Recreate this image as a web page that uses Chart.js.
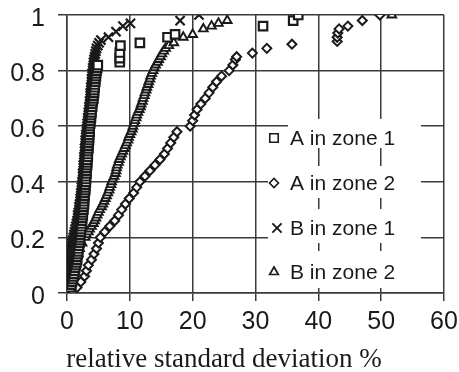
<!DOCTYPE html>
<html>
<head>
<meta charset="utf-8">
<script src="https://cdn.jsdelivr.net/npm/chart.js@4.4.1/dist/chart.umd.min.js"></script>
<style>
  html, body { margin: 0; padding: 0; background: #fff; }
  canvas { display: block; }
</style>
</head>
<body>
<canvas id="rsdChart" width="459" height="372"></canvas>
<script>
// cumulative fraction vs relative standard deviation (%)
const seriesLabels = ['A in zone 1', 'A in zone 2', 'B in zone 1', 'B in zone 2'];

// A in zone 1: right edge of the steep black band, then the loose squares on top
const aZone1X = [
  0.5,0.7,0.8,0.9,1.0,1.1,1.2,1.3,
  1.4,1.5,1.6,1.6,1.7,1.8,1.8,1.9,2.0,2.0,
  2.1,2.1,2.2,2.2,2.3,2.3,2.4,2.4,2.5,2.5,
  2.6,2.6,2.7,2.7,2.7,2.8,2.8,2.9,2.9,2.9,
  3.0,3.0,3.0,3.1,3.1,3.1,3.2,3.2,3.2,3.3,
  3.3,3.3,3.4,3.4,3.4,3.5,3.5,3.5,3.6,3.6,
  3.6,3.7,3.7,3.8,3.8,3.9,3.9,4.0,4.0,4.1,
  4.2,4.2,4.3,4.3,4.4,4.4,4.5,4.5,4.6,4.6,
  4.7,4.8,4.9,
  8.4,8.4,8.4,8.5,11.6,16.0,17.2,31.2,36.0,36.8];
const aZone1Y = [
  0.02,0.03,0.04,0.05,0.06,0.07,0.08,0.09,
  0.10,0.11,0.12,0.13,0.14,0.15,0.16,0.17,0.18,0.19,
  0.20,0.21,0.22,0.23,0.24,0.25,0.26,0.27,0.28,0.29,
  0.30,0.31,0.32,0.33,0.34,0.35,0.36,0.37,0.38,0.39,
  0.40,0.41,0.42,0.43,0.44,0.45,0.46,0.47,0.48,0.49,
  0.50,0.51,0.52,0.53,0.54,0.55,0.56,0.57,0.58,0.59,
  0.60,0.61,0.62,0.63,0.64,0.65,0.66,0.67,0.68,0.69,
  0.70,0.71,0.72,0.73,0.74,0.75,0.76,0.77,0.78,0.79,
  0.80,0.81,0.82,
  0.83,0.845,0.865,0.89,0.90,0.92,0.93,0.96,0.98,1.0];

// A in zone 2: the right-hand curve of diamonds
const aZone2X = [0.9,1.6,2.2,2.8,3.1,3.4,3.9,4.3,4.7,5.0,5.3,6.0,6.8,7.6,8.2,8.7,9.3,9.9,10.6,11.1,11.6,12.4,13.2,14.0,14.8,15.5,16.0,16.5,17.0,17.5,19.6,20.0,20.3,20.7,21.3,22.0,22.6,23.2,23.8,24.6,25.8,26.4,26.8,27.0,29.5,31.8,35.8,43.0,43.0,43.1,43.3,44.7,47.0,49.8];
const aZone2Y = [0.00,0.02,0.04,0.06,0.08,0.10,0.12,0.14,0.16,0.18,0.20,0.22,0.24,0.26,0.28,0.30,0.32,0.34,0.36,0.38,0.40,0.42,0.44,0.46,0.48,0.50,0.52,0.54,0.56,0.58,0.60,0.62,0.64,0.66,0.68,0.70,0.72,0.74,0.76,0.78,0.80,0.82,0.84,0.85,0.863,0.88,0.895,0.905,0.92,0.935,0.95,0.96,0.98,1.00];

// B in zone 1: left edge of the steep band, then the crosses on top
const bZone1X = [
  0.0,0.0,0.1,0.1,0.1,0.2,0.2,0.2,0.3,0.3,
  0.3,0.4,0.4,0.5,0.5,0.6,0.6,0.7,0.8,0.9,
  1.0,1.1,1.2,1.3,1.4,1.5,1.6,1.7,1.7,1.8,
  1.9,1.9,2.0,2.1,2.1,2.2,2.2,2.3,2.3,2.4,
  2.4,2.5,2.5,2.5,2.6,2.6,2.6,2.7,2.7,2.7,
  2.8,2.8,2.8,2.9,2.9,2.9,3.0,3.0,3.1,3.1,
  3.2,3.2,3.3,3.3,3.4,3.4,3.5,3.5,3.6,3.6,
  3.7,3.7,3.7,3.8,3.8,3.9,3.9,3.9,4.0,4.0,
  4.1,4.1,4.2,4.2,4.3,4.4,4.5,4.6,4.7,4.9,
  5.1,5.4,6.6,7.8,8.9,10.1,18.0,21.0];
const bZone1Y = [
  0.00,0.01,0.02,0.03,0.04,0.05,0.06,0.07,0.08,0.09,
  0.10,0.11,0.12,0.13,0.14,0.15,0.16,0.17,0.18,0.19,
  0.20,0.21,0.22,0.23,0.24,0.25,0.26,0.27,0.28,0.29,
  0.30,0.31,0.32,0.33,0.34,0.35,0.36,0.37,0.38,0.39,
  0.40,0.41,0.42,0.43,0.44,0.45,0.46,0.47,0.48,0.49,
  0.50,0.51,0.52,0.53,0.54,0.55,0.56,0.57,0.58,0.59,
  0.60,0.61,0.62,0.63,0.64,0.65,0.66,0.67,0.68,0.69,
  0.70,0.71,0.72,0.73,0.74,0.75,0.76,0.77,0.78,0.79,
  0.80,0.81,0.82,0.83,0.84,0.85,0.86,0.87,0.88,0.89,
  0.90,0.91,0.92,0.94,0.96,0.97,0.98,1.00];

// B in zone 2: the middle curve of triangles
const bZone2X = [0.3,0.5,0.8,1.0,1.3,1.5,1.8,2.0,2.4,2.9,3.1,3.4,3.6,3.9,4.2,4.4,4.6,4.8,5.0,5.2,5.5,5.7,5.9,6.1,6.3,6.5,6.7,6.8,7.0,7.1,7.3,7.5,7.7,7.8,7.9,8.0,8.2,8.3,8.5,8.7,8.9,9.1,9.3,9.5,9.7,9.8,10.0,10.2,10.4,10.5,10.7,10.8,11.0,11.1,11.3,11.5,11.7,11.8,12.0,12.1,12.3,12.4,12.6,12.7,12.9,13.0,13.2,13.3,13.5,13.7,13.9,14.1,14.4,14.6,14.9,15.1,15.4,15.7,16.2,17.0,18.5,20.0,21.7,23.0,24.1,25.5,51.7];
const bZone2Y = [0.02,0.04,0.06,0.08,0.10,0.12,0.14,0.16,0.18,0.20,0.21,0.22,0.23,0.24,0.25,0.26,0.27,0.28,0.29,0.30,0.31,0.32,0.33,0.34,0.35,0.36,0.37,0.38,0.39,0.40,0.41,0.42,0.43,0.44,0.45,0.46,0.47,0.48,0.49,0.50,0.51,0.52,0.53,0.54,0.55,0.56,0.57,0.58,0.59,0.60,0.61,0.62,0.63,0.64,0.65,0.66,0.67,0.68,0.69,0.70,0.71,0.72,0.73,0.74,0.75,0.76,0.77,0.78,0.79,0.80,0.81,0.82,0.83,0.84,0.85,0.86,0.87,0.88,0.89,0.90,0.92,0.93,0.95,0.96,0.97,0.98,1.00];

const xTicks = [0, 10, 20, 30, 40, 50, 60];
const yTicks = [0, 0.2, 0.4, 0.6, 0.8, 1];
const xTitle = 'relative standard deviation %';

const INK = '#1a1a1a';
const GRID = '#3a3a3a';

function pairs(xs, ys) {
  return xs.map((x, i) => ({ x, y: ys[i] }));
}

// marker look per series (scan ink is heavy, so borders are thick)
const markers = [
  { pointStyle: 'rect', radius: 6, borderWidth: 2.2 },
  { pointStyle: 'rectRot', radius: 4.5, borderWidth: 2 },
  { pointStyle: 'crossRot', radius: 6.5, borderWidth: 2.2 },
  { pointStyle: 'triangle', radius: 5, borderWidth: 1.9 }
];
const seriesData = [
  pairs(aZone1X, aZone1Y),
  pairs(aZone2X, aZone2Y),
  pairs(bZone1X, bZone1Y),
  pairs(bZone2X, bZone2Y)
];

// the legend sits in the lower right of the plot, each row on a white patch
const legendRows = [
  { box: [288, 119, 421, 148], mx: 274, y: 138 },
  { box: [268, 166, 421, 198], mx: 274, y: 183 },
  { box: [268, 209, 421, 243], mx: 277, y: 228 },
  { box: [268, 251, 421, 288], mx: 274, y: 272 }
];
const legendMarkers = [
  { pointStyle: 'rect', radius: 6, borderWidth: 1.6 },
  { pointStyle: 'rectRot', radius: 4.5, borderWidth: 1.6 },
  { pointStyle: 'crossRot', radius: 6.5, borderWidth: 1.9 },
  { pointStyle: 'triangle', radius: 5, borderWidth: 1.7 }
];

function drawMarker(ctx, m, x, y) {
  if (Chart.helpers && Chart.helpers.drawPoint) {
    Chart.helpers.drawPoint(ctx, { pointStyle: m.pointStyle, radius: m.radius, rotation: 0, borderWidth: m.borderWidth }, x, y);
  }
}

const boxLegend = {
  id: 'boxLegend',
  afterDatasetsDraw(chart) {
    const ctx = chart.ctx;
    ctx.save();
    legendRows.forEach((row, i) => {
      const [x1, y1, x2, y2] = row.box;
      ctx.fillStyle = '#fff';
      ctx.fillRect(x1, y1, x2 - x1, y2 - y1);
      ctx.fillStyle = '#fff';
      ctx.strokeStyle = INK;
      ctx.lineWidth = legendMarkers[i].borderWidth;
      drawMarker(ctx, legendMarkers[i], row.mx, row.y);
      ctx.fillStyle = INK;
      ctx.font = '21px "Liberation Sans", Arial, sans-serif';
      ctx.textBaseline = 'middle';
      ctx.textAlign = 'left';
      ctx.fillText(seriesLabels[i], 290, row.y + 1);
    });
    // axis title, set a bit left of the plot centre as in the scan
    ctx.font = '27px "Liberation Serif", "Times New Roman", serif';
    ctx.fillStyle = INK;
    ctx.textAlign = 'center';
    ctx.textBaseline = 'alphabetic';
    ctx.fillText(xTitle, 224, 367);
    ctx.restore();
  }
};

new Chart(document.getElementById('rsdChart'), {
  type: 'scatter',
  data: {
    datasets: seriesLabels.map((label, i) => ({
      label,
      data: seriesData[i],
      pointStyle: markers[i].pointStyle,
      pointRadius: markers[i].radius,
      pointBorderWidth: markers[i].borderWidth,
      pointBackgroundColor: '#fff',
      pointBorderColor: INK,
      showLine: false
    }))
  },
  options: {
    responsive: false,
    animation: false,
    devicePixelRatio: 1,
    layout: { padding: { top: 15, right: 15, left: 0, bottom: 0 } },
    plugins: {
      legend: { display: false },
      tooltip: { enabled: false }
    },
    scales: {
      x: {
        type: 'linear',
        min: 0,
        max: 60,
        afterBuildTicks: s => { s.ticks = xTicks.map(v => ({ value: v })); },
        afterFit: s => { s.height = 79; s.paddingLeft = 0; s.paddingRight = 0; },
        grid: { color: GRID, lineWidth: 1.5, tickLength: 8, tickColor: GRID },
        border: { color: GRID, width: 1.5 },
        ticks: {
          color: INK,
          padding: 6,
          maxRotation: 0,
          font: { family: '"Liberation Sans", Arial, sans-serif', size: 25 }
        }
      },
      y: {
        type: 'linear',
        min: 0,
        max: 1,
        afterBuildTicks: s => { s.ticks = yTicks.map(v => ({ value: v })); },
        afterFit: s => { s.width = 67; s.paddingTop = 0; s.paddingBottom = 0; },
        grid: { color: GRID, lineWidth: 1.5, tickLength: 9, tickColor: GRID },
        border: { color: GRID, width: 1.5 },
        ticks: {
          color: INK,
          padding: 13,
          labelOffset: 4,
          callback: v => String(Number(v.toFixed(1))),
          font: { family: '"Liberation Sans", Arial, sans-serif', size: 25 }
        }
      }
    }
  },
  plugins: [boxLegend]
});
</script>
</body>
</html>
